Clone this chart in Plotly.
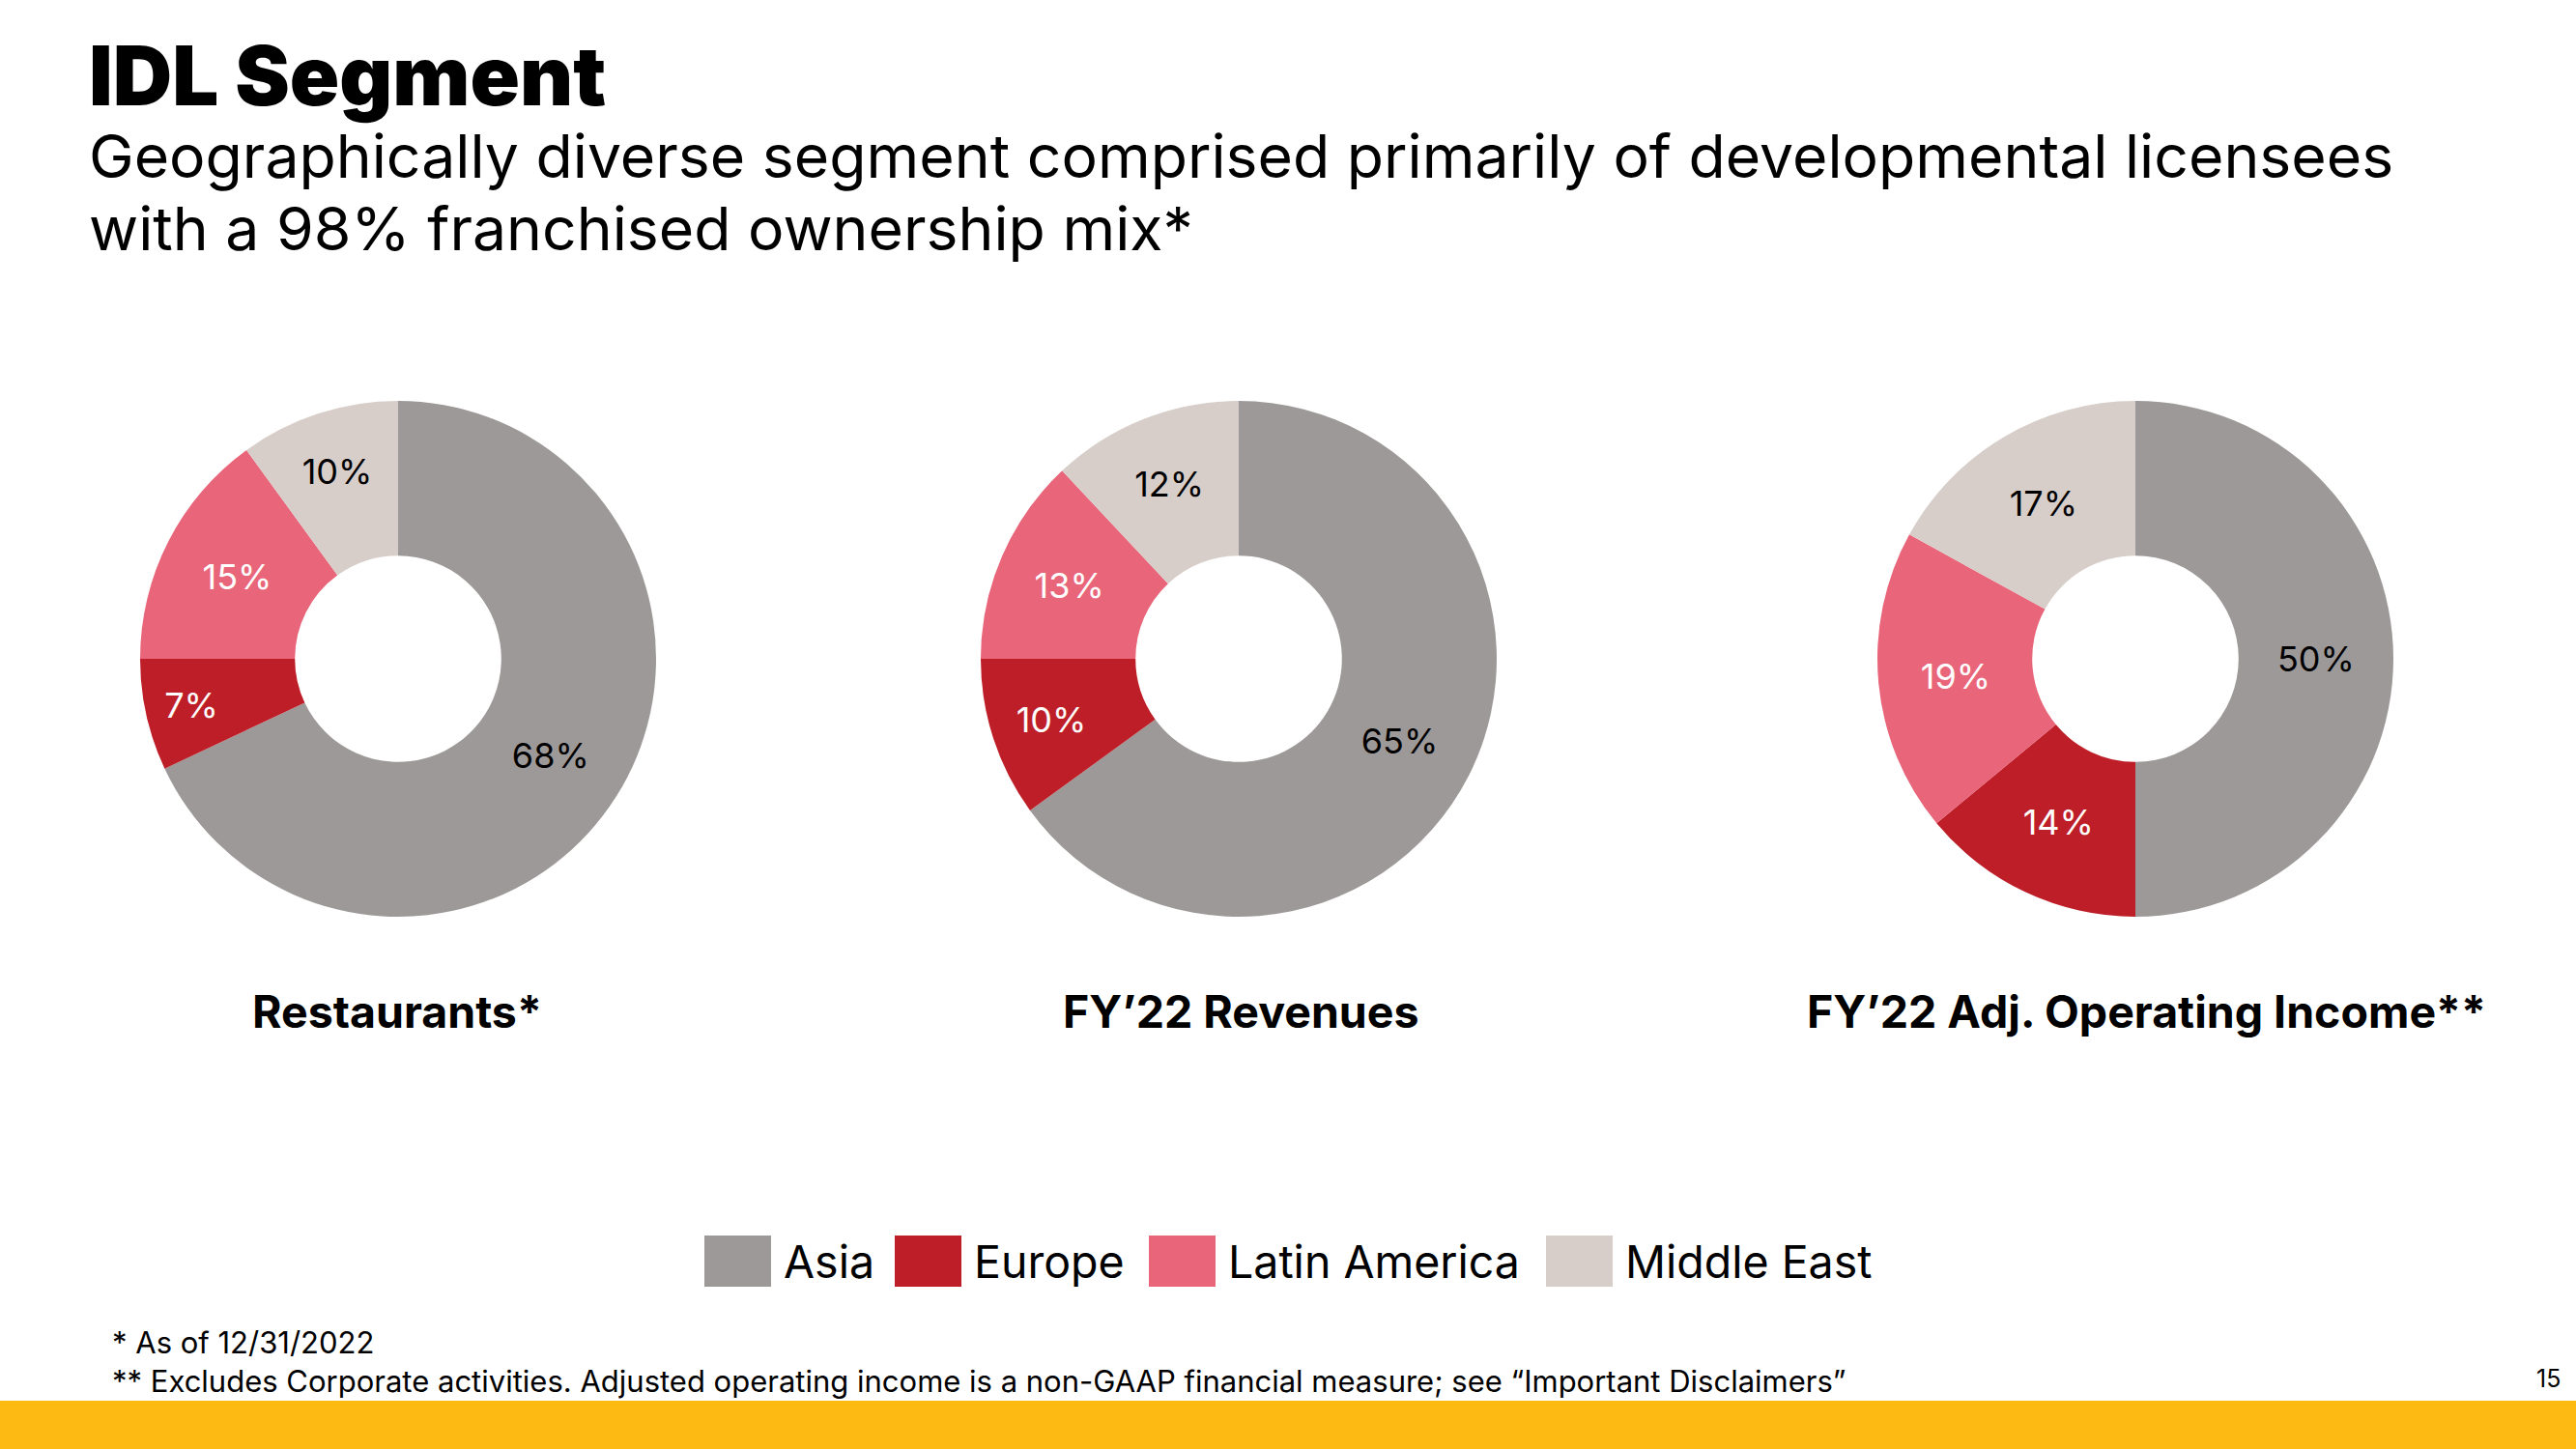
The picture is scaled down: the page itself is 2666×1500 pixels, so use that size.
import plotly.graph_objects as go

W, H = 2666, 1500

# ---- data ----
regions = ["Asia", "Europe", "Latin America", "Middle East"]
restaurants = [68, 7, 15, 10]
revenues = [65, 10, 13, 12]
adj_op_income = [50, 14, 19, 17]
chart_titles = ["Restaurants*", "FY\u201922 Revenues", "FY\u201922 Adj. Operating Income**"]
colors = ["#9D9998", "#BE1E27", "#E8657A", "#D8CEC9"]
label_colors = ["#000000", "#FFFFFF", "#FFFFFF", "#000000"]
title_text = "IDL Segment"
subtitle_lines = ["Geographically diverse segment comprised primarily of developmental licensees",
                  "with a 98% franchised ownership mix*"]

FONT = "Inter"


def px(x):
    return x / W


def py(y):
    return 1 - y / H


centers = [412, 1282, 2210]
cy, r = 682, 267
series = [restaurants, revenues, adj_op_income]

fig = go.Figure()
for cx, vals in zip(centers, series):
    fig.add_trace(go.Pie(
        labels=regions,
        values=vals,
        hole=0.4,
        sort=False,
        direction="clockwise",
        rotation=0,
        marker=dict(colors=colors, line=dict(width=0)),
        textinfo="text",
        text=[f"{v}%" for v in vals],
        textposition="inside",
        insidetextorientation="horizontal",
        insidetextfont=dict(family=FONT, size=36, color=label_colors),
        showlegend=False,
        hoverinfo="label+percent",
        domain=dict(x=[px(cx - r), px(cx + r)], y=[py(cy + r), py(cy - r)]),
    ))

annotations = []
shapes = []

# Title + subtitle as one text block (line spacing 1.3 x 57.7px = 75px)
header = (f'<span style="font-size:85px;font-weight:900">{title_text}</span><br>'
          + "<br>".join(f'<span style="font-size:62.5px">{s}</span>' for s in subtitle_lines))
annotations.append(dict(text=header, x=px(90), y=py(25), xref="paper", yref="paper",
                        xanchor="left", yanchor="top", align="left", showarrow=False,
                        font=dict(family=FONT, size=57.7, color="#000")))

# Chart titles
for cx, t in zip([411, 1284, 2221], chart_titles):
    annotations.append(dict(text=t, x=px(cx), y=py(1047), xref="paper", yref="paper",
                            xanchor="center", yanchor="middle", showarrow=False,
                            font=dict(family=FONT, size=46.5, color="#000", weight=700)))

# Custom legend
legend_x = [729, 926, 1189, 1600]
for lx, name, col in zip(legend_x, regions, colors):
    shapes.append(dict(type="rect", xref="paper", yref="paper",
                       x0=px(lx), x1=px(lx + 69), y0=py(1332), y1=py(1279),
                       fillcolor=col, line=dict(width=0)))
    annotations.append(dict(text=name, x=px(lx + 80), y=py(1306), xref="paper", yref="paper",
                            xanchor="left", yanchor="middle", showarrow=False,
                            font=dict(family=FONT, size=46.5, color="#000")))

# Footnotes
annotations.append(dict(text="* As of 12/31/2022", x=px(114), y=py(1389), xref="paper", yref="paper",
                        xanchor="left", yanchor="middle", showarrow=False,
                        font=dict(family=FONT, size=31, color="#000")))
annotations.append(dict(text="** Excludes Corporate activities. Adjusted operating income is a non-GAAP financial measure; see \u201cImportant Disclaimers\u201d",
                        x=px(114), y=py(1429), xref="paper", yref="paper",
                        xanchor="left", yanchor="middle", showarrow=False,
                        font=dict(family=FONT, size=31, color="#000")))
annotations.append(dict(text="15", x=px(2652), y=py(1427), xref="paper", yref="paper",
                        xanchor="right", yanchor="middle", showarrow=False,
                        font=dict(family=FONT, size=25, color="#000")))

# Yellow bottom bar
shapes.append(dict(type="rect", xref="paper", yref="paper", x0=0, x1=1, y0=0, y1=py(1450),
                   fillcolor="#FDBA12", line=dict(width=0), layer="below"))

fig.update_layout(
    width=W, height=H,
    margin=dict(l=0, r=0, t=0, b=0),
    paper_bgcolor="white",
    plot_bgcolor="white",
    annotations=annotations,
    shapes=shapes,
    showlegend=False,
    uniformtext=dict(minsize=36, mode="show"),
)

fig.write_html("out.html", config={"displayModeBar": False},
               post_script="document.body.style.margin='0px';")
